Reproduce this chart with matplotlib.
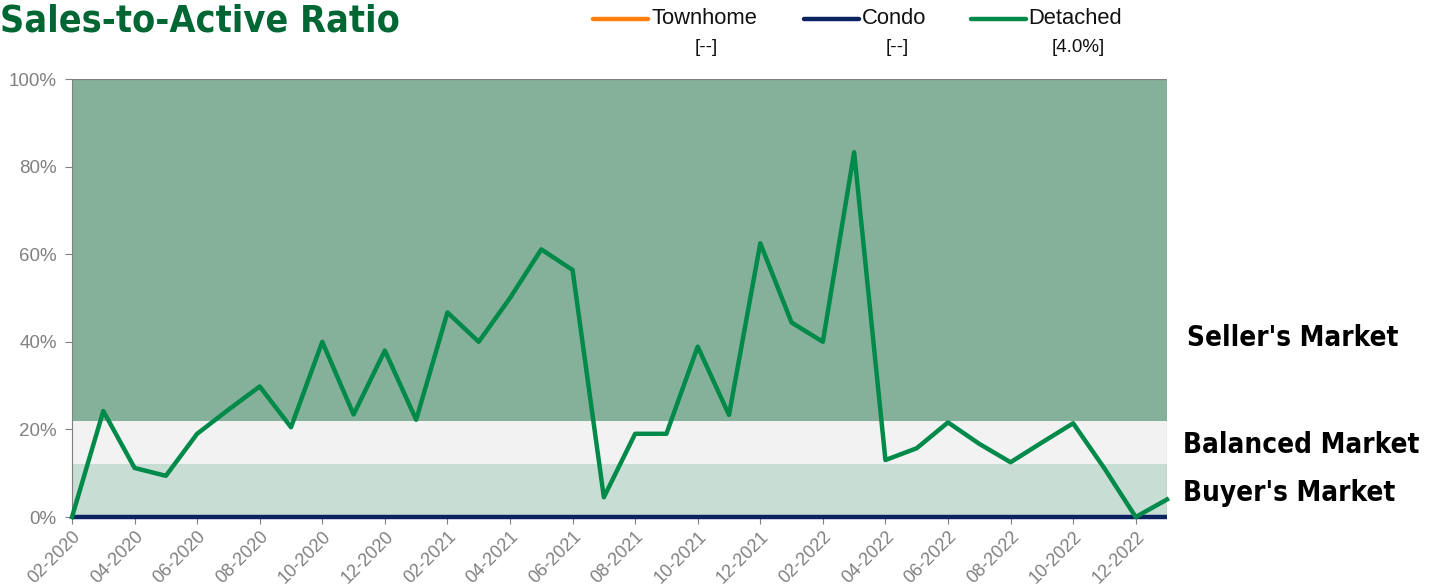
import matplotlib
matplotlib.use("Agg")
import matplotlib.pyplot as plt
from matplotlib.lines import Line2D
import pandas as pd

months = [d.strftime("%m-%Y") for d in pd.date_range("2020-02-01", "2023-01-01", freq="MS")]
detached = [0, 24.2, 11.2, 9.4, 19.0, 24.5, 29.8, 20.5, 40.0, 23.4, 38.0, 22.2,
            46.7, 40.0, 50.0, 61.1, 56.4, 4.5, 19.0, 19.0, 38.9, 23.3, 62.5, 44.4,
            40.0, 83.3, 13.0, 15.7, 21.6, 16.7, 12.5, 17.0, 21.4, 11.1, 0.0, 4.0]
condo = [0.0] * len(months)
series_names = ["Townhome", "Condo", "Detached"]
series_latest = ["[--]", "[--]", "[4.0%]"]
bands = [(0, 12, "Buyer's Market"), (12, 22, "Balanced Market"), (22, 100, "Seller's Market")]
yticks = [0, 20, 40, 60, 80, 100]

C_TOWN = "#ff7f0e"
C_CONDO = "#0b2461"
C_DET = "#008a4a"
band_colors = ["#c8ddd3", "#f2f2f2", "#85b19b"]

fig = plt.figure(figsize=(14.35, 5.88), dpi=100)
ax = fig.add_axes([72/1435, 1-517/588, (1167-72)/1435, (517-79)/588])

x = list(range(len(months)))
for (lo, hi, _), c in zip(bands, band_colors):
    ax.axhspan(lo, hi, color=c, zorder=0, lw=0)

ax.plot(x, condo, color=C_CONDO, lw=3.2, zorder=3, clip_on=False, solid_capstyle="butt")
ax.plot(x, detached, color=C_DET, lw=3.2, zorder=4, clip_on=False, solid_joinstyle="round")

ax.set_xlim(0, len(months) - 1)
ax.set_ylim(0, 100)
ax.set_yticks(yticks)
ax.set_yticklabels([f"{v}%" for v in yticks])
ax.set_xticks(x[::2])
ax.set_xticklabels(months[::2], rotation=45, ha="right", rotation_mode="anchor")

gray = "#808080"
ax.tick_params(axis="both", colors=gray, labelcolor=gray, labelsize=13.5, length=5, direction="out")
ax.tick_params(axis="x", pad=3, labelsize=13)
ax.tick_params(axis="y", pad=6)
for side in ["top", "right", "bottom"]:
    ax.spines[side].set_visible(False)
ax.spines["left"].set_color(gray)
ax.axhline(100, color=gray, lw=1, zorder=1)
ax.axvline(len(months) - 1, color=gray, lw=0.8, zorder=1)

for lab in ax.get_xticklabels() + ax.get_yticklabels():
    lab.set_family(["Liberation Sans", "DejaVu Sans"])

cond = ["DejaVu Sans"]
fig.text(0/1435, 1-22/588, "Sales-to-Active Ratio", family=cond, fontweight="bold",
         fontstretch="condensed", fontsize=27, color="#006633", va="center", ha="left")

# custom legend
leg = [(593, 648, 652, 706, C_TOWN), (804, 859, 862, 897, C_CONDO), (971, 1026, 1028, 1078, C_DET)]
for (x0, x1, tx, vx, c), name, val in zip(leg, series_names, series_latest):
    fig.add_artist(Line2D([x0/1435, x1/1435], [1-19/588, 1-19/588], color=c, lw=3.2,
                          solid_capstyle="round", transform=fig.transFigure))
    fig.text(tx/1435, 1-19/588, name, fontsize=15.8, family=["Liberation Sans", "DejaVu Sans"],
             va="center", ha="left", color="#111111")
    fig.text(vx/1435, 1-47/588, val, fontsize=13.5, family=["Liberation Sans", "DejaVu Sans"],
             va="center", ha="center", color="#111111")

for (lo, hi, name), (px, py) in zip(bands, [(1183, 493), (1183, 445), (1187, 338)]):
    fig.text(px/1435, 1-py/588, name, family=cond, fontweight="bold", fontstretch="condensed",
             fontsize=20, va="center", ha="left", color="black")

fig.savefig("out.png", dpi=100)
